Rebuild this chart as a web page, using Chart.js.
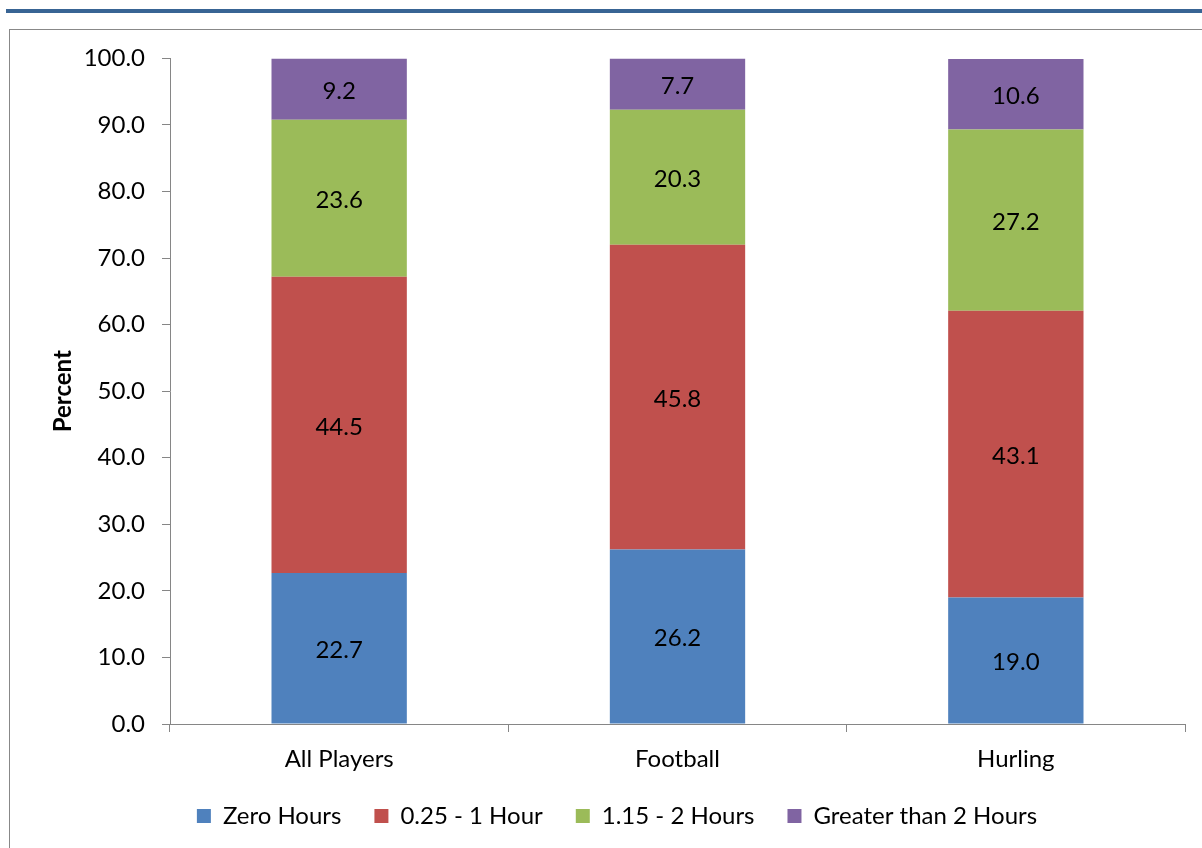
<!DOCTYPE html>
<html>
<head>
<meta charset="utf-8">
<script src="https://cdn.jsdelivr.net/npm/chart.js@4.4.0/dist/chart.umd.min.js"></script>
<style>
    html, body { margin: 0; padding: 0; background: #fff; width: 1202px; height: 848px; overflow: hidden; }
    .topline { position: absolute; left: 6px; top: 9px; width: 1196px; height: 4px; background: #386494; }
    .frame { position: absolute; left: 9px; top: 29px; width: 1200px; height: 830px; border: 1px solid #888; box-sizing: border-box; }
    .wrap { position: absolute; left: 10px; top: 27px; width: 1192px; height: 821px; }
</style>
</head>
<body>
<div class="topline"></div>
<div class="frame"></div>
<div class="wrap"><canvas id="chart"></canvas></div>
<script>
const categories = ['All Players', 'Football', 'Hurling'];
const zeroHours = [22.7, 26.2, 19.0];
const quarterToOne = [44.5, 45.8, 43.1];
const oneToTwo = [23.6, 20.3, 27.2];
const overTwo = [9.2, 7.7, 10.6];
const yTicks = [0, 10, 20, 30, 40, 50, 60, 70, 80, 90, 100];

const FONT = 'Lato, "Open Sans", sans-serif';

// draws the value in the middle of each bar segment
const barLabels = {
    id: 'barLabels',
    afterDatasetsDraw(chart) {
        const ctx = chart.ctx;
        ctx.save();
        ctx.font = '24px ' + FONT;
        ctx.fillStyle = '#000';
        ctx.textAlign = 'center';
        ctx.textBaseline = 'middle';
        chart.data.datasets.forEach((ds, i) => {
            chart.getDatasetMeta(i).data.forEach((bar, j) => {
                const mid = (bar.y + bar.base) / 2;
                ctx.fillText(ds.data[j].toFixed(1), bar.x, mid + 2);
            });
        });
        ctx.restore();
    }
};

new Chart(document.getElementById('chart'), {
    type: 'bar',
    data: {
        labels: categories,
        datasets: [
            { label: 'Zero Hours', data: zeroHours, backgroundColor: '#4F81BD' },
            { label: '0.25 - 1 Hour', data: quarterToOne, backgroundColor: '#C0504D' },
            { label: '1.15 - 2 Hours', data: oneToTwo, backgroundColor: '#9BBB59' },
            { label: 'Greater than 2 Hours', data: overTwo, backgroundColor: '#8064A2' }
        ]
    },
    options: {
        responsive: true,
        maintainAspectRatio: false,
        animation: false,
        categoryPercentage: 0.4,
        barPercentage: 1.0,
        layout: { padding: { top: 25, right: 17, left: 39, bottom: 10 } },
        scales: {
            x: {
                stacked: true,
                grid: { drawOnChartArea: false, drawTicks: true, tickLength: 8, color: '#868686', offset: true },
                border: { color: '#868686', width: 1 },
                // mirror only to avoid the label clip box; negative padding puts labels back below the axis
                ticks: { color: '#000', font: { family: FONT, size: 24 }, mirror: true, padding: -50 },
                afterFit: (s) => { s.height = 47; }
            },
            y: {
                stacked: true,
                min: 0,
                max: 100,
                afterBuildTicks: (s) => { s.ticks = yTicks.map(v => ({ value: v })); },
                grid: { drawOnChartArea: false, drawTicks: true, tickLength: 8, color: '#868686' },
                border: { color: '#868686', width: 1 },
                ticks: {
                    color: '#000',
                    font: { family: FONT, size: 24 },
                    padding: 17,
                    callback: (v) => Number(v).toFixed(1)
                },
                title: {
                    display: true, text: 'Percent', color: '#000',
                    font: { family: FONT, size: 24, weight: 'bold' },
                    padding: { top: 0, bottom: 0 }
                },
                afterFit: (s) => { s.width = 121; }
            }
        },
        plugins: {
            legend: {
                position: 'bottom',
                labels: {
                    color: '#000',
                    font: { family: FONT, size: 24 },
                    boxWidth: 14,
                    boxHeight: 14,
                    padding: 33
                }
            },
            tooltip: { enabled: false }
        }
    },
    plugins: [barLabels]
});
</script>
</body>
</html>
